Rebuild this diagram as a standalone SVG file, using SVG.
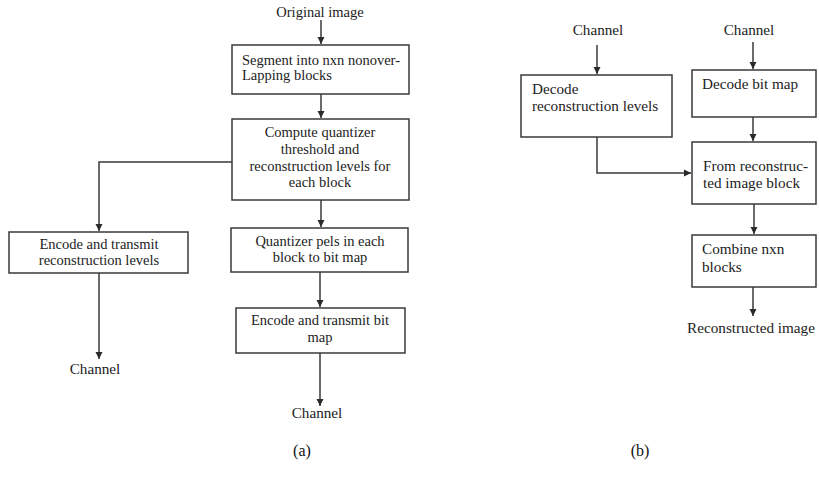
<svg xmlns="http://www.w3.org/2000/svg" width="819" height="490" viewBox="0 0 819 490">
<style>
.box{fill:#fff;stroke:#3a3a3a;stroke-width:1.5}
.t{font-family:"Liberation Serif",serif;font-size:14.5px;fill:#222}
.b{font-size:15.2px}
.c{text-anchor:middle}
.cap{font-family:"Liberation Serif",serif;font-size:16px;fill:#111;text-anchor:middle}
.ln{fill:none;stroke:#3a3a3a;stroke-width:1.5}
</style>
<defs>
<marker id="ah" markerWidth="8" markerHeight="8" refX="7" refY="4" orient="auto" markerUnits="userSpaceOnUse">
<path d="M0,0.5 L7,4 L0,7.5 Z" fill="#2a2a2a"/>
</marker>
</defs>
<rect width="819" height="490" fill="#fff"/>
<g id="connectors">
<path class="ln" d="M321,20 V44" marker-end="url(#ah)"/>
<path class="ln" d="M321,94 V118" marker-end="url(#ah)"/>
<path class="ln" d="M232,162 H99 V231" marker-end="url(#ah)"/>
<path class="ln" d="M321,200 V227" marker-end="url(#ah)"/>
<path class="ln" d="M99,273 V359" marker-end="url(#ah)"/>
<path class="ln" d="M320,272 V307" marker-end="url(#ah)"/>
<path class="ln" d="M320,353 V406" marker-end="url(#ah)"/>
<path class="ln" d="M597,45 V74" marker-end="url(#ah)"/>
<path class="ln" d="M753,42 V69" marker-end="url(#ah)"/>
<path class="ln" d="M597,137 V173 H691" marker-end="url(#ah)"/>
<path class="ln" d="M753,117 V141" marker-end="url(#ah)"/>
<path class="ln" d="M754,204 V234" marker-end="url(#ah)"/>
<path class="ln" d="M753,287 V316" marker-end="url(#ah)"/>
</g>
<g id="original"><text class="t c" x="320" y="17">Original image</text></g>
<g id="segment">
<rect class="box" x="232" y="45" width="177" height="49"/>
<text class="t" x="242" y="65">Segment into nxn nonover-</text>
<text class="t" x="242" y="80">Lapping blocks</text>
</g>
<g id="compute">
<rect class="box" x="232" y="119" width="177" height="81"/>
<text class="t c" x="320" y="137">Compute quantizer</text>
<text class="t c" x="320" y="154">threshold and</text>
<text class="t c" x="320" y="171">reconstruction levels for</text>
<text class="t c" x="320" y="187">each block</text>
</g>
<g id="encode-levels">
<rect class="box" x="9" y="232" width="179" height="41"/>
<text class="t c" x="99" y="249">Encode and transmit</text>
<text class="t c" x="99" y="265">reconstruction levels</text>
</g>
<g id="channel-a1"><text class="t b c" x="95" y="374">Channel</text></g>
<g id="quantize">
<rect class="box" x="231" y="228" width="177" height="44"/>
<text class="t c" x="320" y="246">Quantizer pels in each</text>
<text class="t c" x="320" y="262">block to bit map</text>
</g>
<g id="encode-bitmap">
<rect class="box" x="236" y="308" width="169" height="45"/>
<text class="t c" x="320" y="325">Encode and transmit bit</text>
<text class="t c" x="320" y="342">map</text>
</g>
<g id="channel-a2"><text class="t b c" x="317" y="418">Channel</text></g>
<g id="channel-b1"><text class="t b c" x="598" y="35">Channel</text></g>
<g id="channel-b2"><text class="t b c" x="749" y="35">Channel</text></g>
<g id="decode-levels">
<rect class="box" x="521" y="75" width="151" height="62"/>
<text class="t b" x="532" y="94">Decode</text>
<text class="t b" x="532" y="111">reconstruction levels</text>
</g>
<g id="decode-bitmap">
<rect class="box" x="692" y="70" width="124" height="47"/>
<text class="t b" x="702" y="89">Decode bit map</text>
</g>
<g id="form-block">
<rect class="box" x="692" y="142" width="124" height="62"/>
<text class="t b" x="703" y="171">From reconstruc-</text>
<text class="t b" x="703" y="188">ted image block</text>
</g>
<g id="combine">
<rect class="box" x="692" y="235" width="124" height="52"/>
<text class="t b" x="702" y="254">Combine nxn</text>
<text class="t b" x="702" y="272">blocks</text>
</g>
<g id="reconstructed"><text class="t b c" x="751" y="333">Reconstructed image</text></g>
<g id="captions">
<text class="cap" x="302" y="456">(a)</text>
<text class="cap" x="640" y="456">(b)</text>
</g>
</svg>
